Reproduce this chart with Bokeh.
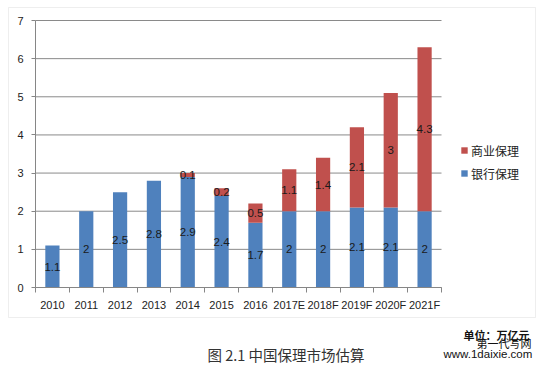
from bokeh.plotting import figure
from bokeh.core.properties import value
from bokeh.models import (Range1d, FixedTicker, Legend, LegendItem, Label,
                          BoxAnnotation, ColumnDataSource, LabelSet)
from bokeh.embed import file_html
from bokeh.resources import INLINE

years = ["2010", "2011", "2012", "2013", "2014", "2015", "2016",
         "2017E", "2018F", "2019F", "2020F", "2021F"]
bank = [1.1, 2, 2.5, 2.8, 2.9, 2.4, 1.7, 2, 2, 2.1, 2.1, 2]
commercial = [0, 0, 0, 0, 0.1, 0.2, 0.5, 1.1, 1.4, 2.1, 3, 4.3]
series_names = ["银行保理", "商业保理"]
colors = ["#4F81BD", "#C0504D"]
y_ticks = [0, 1, 2, 3, 4, 5, 6, 7]
unit_text = "单位：万亿元"
caption_text = "图 2.1 中国保理市场估算"
watermark = ["第一代写网", "www.1daixie.com"]

# page layout (pixels): the plot frame fills the whole canvas and the
# chart's axes are pinned at zero, so that legend and notes are not clipped
W, H = 545, 372
AX_L, AX_R, AX_T, AX_B = 35, 441, 20, 287
n = len(years)
ymax = y_ticks[-1]
px_x = (AX_R - AX_L) / n
px_y = (AX_B - AX_T) / ymax
x_range = Range1d(-AX_L / px_x, (W - AX_L) / px_x)
y_range = Range1d(-(H - AX_B) / px_y, AX_B / px_y)

xs = [i + 0.5 for i in range(n)]
src = ColumnDataSource(dict(
    x=xs, bank=bank, commercial=commercial,
    bank_mid=[b / 2 for b in bank],
    com_mid=[b + c / 2 for b, c in zip(bank, commercial)],
    bank_lbl=[f"{b:g}" for b in bank],
    com_lbl=[f"{c:g}" if c > 0 else "" for c in commercial],
))

p = figure(width=W, height=H, output_backend="svg", toolbar_location=None,
           x_range=x_range, y_range=y_range, min_border=0)
p.outline_line_color = None
p.xgrid.grid_line_color = None
p.ygrid.grid_line_color = None

# horizontal gridlines over the category span
p.segment(x0=[0] * len(y_ticks), x1=[n] * len(y_ticks), y0=y_ticks,
          y1=y_ticks, line_color="#8a8a8a", line_width=1)

r = p.vbar_stack(["bank", "commercial"], x="x", width=0.42, source=src,
                 color=colors, line_color=None)

# axes pinned at zero
p.xaxis.fixed_location = 0
p.xaxis.bounds = (0, n)
p.xaxis.ticker = FixedTicker(ticks=xs, minor_ticks=list(range(n + 1)))
p.xaxis.major_label_overrides = {x: y for x, y in zip(xs, years)}
p.xaxis.major_tick_out = 0
p.xaxis.major_tick_in = 0
p.xaxis.minor_tick_out = 5
p.xaxis.minor_tick_in = 0
p.xaxis.minor_tick_line_color = "#868686"
p.xaxis.axis_line_color = "#868686"
p.xaxis.major_label_text_font = "Liberation Sans"
p.xaxis.major_label_text_font_size = "11px"
p.xaxis.major_label_text_color = "#222222"
p.xaxis.major_label_standoff = 6

p.yaxis.fixed_location = 0
p.yaxis.bounds = (0, ymax)
p.yaxis.ticker = FixedTicker(ticks=y_ticks)
p.yaxis.major_tick_out = 4
p.yaxis.major_tick_in = 0
p.yaxis.minor_tick_line_color = None
p.yaxis.axis_line_color = "#868686"
p.yaxis.major_tick_line_color = "#868686"
p.yaxis.major_label_text_font = "Liberation Sans"
p.yaxis.major_label_text_font_size = "11px"
p.yaxis.major_label_text_color = "#222222"
p.yaxis.major_label_standoff = 8

# data labels
for ycol, tcol in (("bank_mid", "bank_lbl"), ("com_mid", "com_lbl")):
    p.add_layout(LabelSet(x="x", y=ycol, text=tcol, source=src,
                          text_align="center", text_baseline="middle",
                          text_font=value("Liberation Sans"),
                          text_font_size=value("11.5px"),
                          text_color="#1a1a1a"))

legend = Legend(items=[LegendItem(label=series_names[1], renderers=[r[1]]),
                       LegendItem(label=series_names[0], renderers=[r[0]])],
                location=(460, H - 183), glyph_width=8, glyph_height=8,
                label_standoff=3, spacing=3, label_height=20,
                label_text_font="Noto Sans CJK SC", label_text_font_size="12px",
                label_text_color="#222222", border_line_color=None,
                background_fill_alpha=0, padding=0, margin=0)
p.add_layout(legend)

# chart border
p.add_layout(BoxAnnotation(left=8, right=535, bottom=H - 317, top=H - 7,
                           left_units="screen", right_units="screen",
                           top_units="screen", bottom_units="screen",
                           fill_color=None, line_color="#c8c8c8", line_width=1))

p.add_layout(Label(x=463, y=H - 334, x_units="screen", y_units="screen",
                   text=unit_text, text_font="Noto Sans CJK SC",
                   text_font_size="11px", text_font_style="bold",
                   text_baseline="middle", text_color="#111111"))
p.add_layout(Label(x=476, y=H - 342, x_units="screen", y_units="screen",
                   text=watermark[0], text_font="Noto Sans CJK SC",
                   text_font_size="11px", text_baseline="middle",
                   text_color="#111111"))
p.add_layout(Label(x=443, y=H - 353, x_units="screen", y_units="screen",
                   text=watermark[1], text_font="Liberation Sans",
                   text_font_size="11.5px", text_baseline="middle",
                   text_color="#111111"))
p.add_layout(Label(x=207, y=H - 354, x_units="screen", y_units="screen",
                   text=caption_text, text_font="Noto Sans CJK SC",
                   text_font_size="14.5px", text_baseline="middle",
                   text_color="#333333"))

open("out.html", "w").write(file_html(p, INLINE))
